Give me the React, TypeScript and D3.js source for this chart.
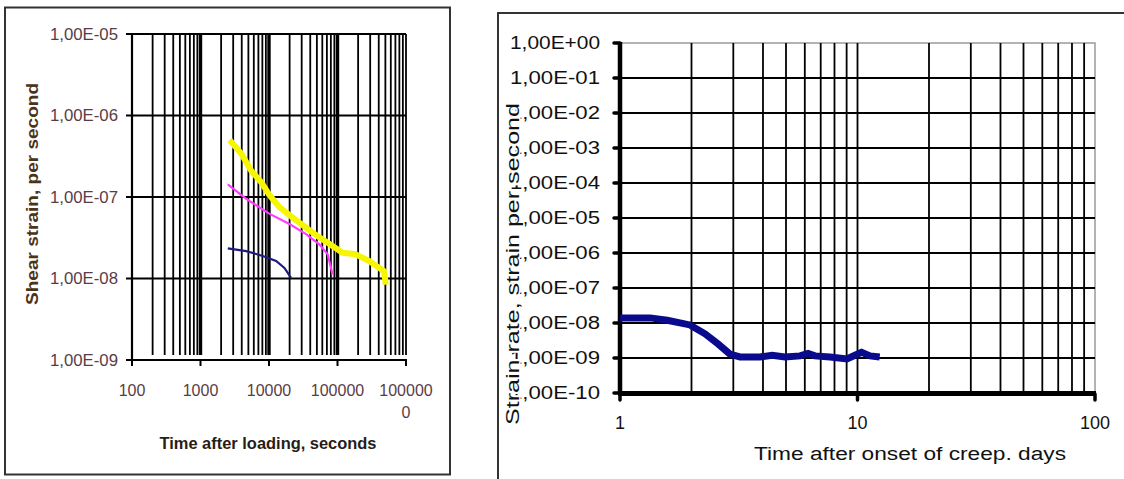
import React from "react";
import * as d3 from "d3";

// left chart: shear strain rate vs time after loading (seconds)
const yellowX = [2660, 3950, 5500, 7700, 10200, 14200, 22200, 34700, 54300, 84800, 118000, 185000, 290000, 479000, 507000];
const yellowY = [5.0e-7, 3.4e-7, 2.1e-7, 1.52e-7, 1.05e-7, 7.5e-8, 5.6e-8, 4.2e-8, 3.2e-8, 2.5e-8, 2.07e-8, 1.98e-8, 1.64e-8, 1.23e-8, 8.4e-9];
const magentaX = [2500, 4650, 10200, 19900, 34700, 54300, 71800, 84800];
const magentaY = [1.43e-7, 9.5e-8, 6.2e-8, 4.66e-8, 3.5e-8, 2.63e-8, 1.98e-8, 1.12e-8];
const navyX = [2500, 4650, 8100, 12700, 16800, 21000];
const navyY = [2.34e-8, 2.17e-8, 1.89e-8, 1.64e-8, 1.35e-8, 1.02e-8];
const leftXTicks = ["100", "1000", "10000", "100000", "1000000"];
const leftYTicks = ["1,00E-09", "1,00E-08", "1,00E-07", "1,00E-06", "1,00E-05"];

// right chart: strain rate vs time after onset of creep (days)
const creepX = [1.0, 1.34, 1.58, 1.97, 2.28, 2.59, 2.9, 3.2, 3.88, 4.37, 4.95, 5.73, 6.19, 6.62, 7.66, 9.03, 9.76, 10.4, 11.3, 12.4];
const creepY = [1.4e-8, 1.4e-8, 1.2e-8, 8.8e-9, 4.9e-9, 2.5e-9, 1.3e-9, 1.07e-9, 1.07e-9, 1.2e-9, 1.07e-9, 1.15e-9, 1.35e-9, 1.15e-9, 1.07e-9, 9.4e-10, 1.2e-9, 1.45e-9, 1.15e-9, 1.07e-9];
const rightXTicks = ["1", "10", "100"];
const rightYTicks = ["1,00E-10", "1,00E-09", "1,00E-08", "1,00E-07", "1,00E-06", "1,00E-05", "1,00E-04", "1,00E-03", "1,00E-02", "1,00E-01", "1,00E+00"];

const isDecade = (v: number) => Math.abs(Math.log10(v) - Math.round(Math.log10(v))) < 1e-9;

function LeftChart() {
  const x = d3.scaleLog().domain([100, 1e6]).range([132, 406]);
  const y = d3.scaleLog().domain([1e-9, 1e-5]).range([360, 34]);
  const line = d3.line<[number, number]>().x(d => x(d[0])).y(d => y(d[1]));
  const pts = (xs: number[], ys: number[]) => xs.map((v, i) => [v, ys[i]] as [number, number]);
  const xt = x.ticks();
  const decadesY = y.ticks().filter(isDecade);
  const decadesX = xt.filter(isDecade);
  const font = "'Liberation Sans', Arial, sans-serif";
  return (
    <g>
      <rect x={5} y={7.5} width={445} height={467} fill="#fff" stroke="#333" strokeWidth={2} />
      {xt.filter(v => v > 100).map((v, i) => (
        <line key={"vx" + i} x1={x(v)} x2={x(v)} y1={34} y2={355} stroke="#000"
          strokeWidth={isDecade(v) && v < 1e6 ? 3.4 : 1.8} />
      ))}
      {decadesY.filter(v => v > 1e-9).map((v, i) => (
        <line key={"hy" + i} x1={132} x2={406} y1={y(v)} y2={y(v)} stroke="#000" strokeWidth={2.2} />
      ))}
      <line x1={132} x2={132} y1={34} y2={360} stroke="#000" strokeWidth={2.2} />
      <line x1={132} x2={407} y1={360} y2={360} stroke="#000" strokeWidth={2.2} />
      {decadesY.map((v, i) => (
        <line key={"ty" + i} x1={126} x2={132} y1={y(v)} y2={y(v)} stroke="#000" strokeWidth={2} />
      ))}
      {decadesX.map((v, i) => (
        <line key={"tx" + i} x1={x(v)} x2={x(v)} y1={360} y2={366} stroke="#000" strokeWidth={2} />
      ))}
      <path d={line(pts(navyX, navyY)) || ""} fill="none" stroke="#1c1c80" strokeWidth={2.2} />
      <path d={line(pts(magentaX, magentaY)) || ""} fill="none" stroke="#ff3cff" strokeWidth={2.2} />
      <path d={line(pts(yellowX, yellowY)) || ""} fill="none" stroke="#f6f600" strokeWidth={6} strokeLinejoin="round" />
      {decadesY.map((v, i) => (
        <text key={"ly" + i} x={118} y={y(v)} dy="0.35em" textAnchor="end" fontFamily={font} fontSize={16}
          fill="#5a3c46" textLength={68} lengthAdjust="spacingAndGlyphs">{leftYTicks[i]}</text>
      ))}
      {decadesX.map((v, i) => (
        leftXTicks[i].length > 6 ? (
          <text key={"lx" + i} x={x(v)} y={390} textAnchor="middle" fontFamily={font} fontSize={16} fill="#5a3c46">
            <tspan x={x(v)} dy="0.35em">{leftXTicks[i].slice(0, 6)}</tspan>
            <tspan x={x(v)} dy={22}>{leftXTicks[i].slice(6)}</tspan>
          </text>
        ) : (
          <text key={"lx" + i} x={x(v)} y={390} dy="0.35em" textAnchor="middle" fontFamily={font} fontSize={16}
            fill="#5a3c46">{leftXTicks[i]}</text>
        )
      ))}
      <text x={268} y={443} dy="0.35em" textAnchor="middle" fontFamily={font} fontSize={16} fontWeight="bold"
        fill="#2a1c14" textLength={217} lengthAdjust="spacingAndGlyphs">Time after loading, seconds</text>
      <text transform="translate(32,194) rotate(-90)" dy="0.35em" textAnchor="middle" fontFamily={font} fontSize={16}
        fontWeight="bold" fill="#4a3418" textLength={222} lengthAdjust="spacingAndGlyphs">Shear strain, per second</text>
    </g>
  );
}

function RightChart() {
  const x = d3.scaleLog().domain([1, 100]).range([620, 1095]);
  const y = d3.scaleLog().domain([1e-10, 1]).range([393, 43]);
  const line = d3.line<[number, number]>().x(d => x(d[0])).y(d => y(d[1]));
  const decadesY = y.ticks().filter(isDecade);
  const xt = x.ticks();
  const decadesX = xt.filter(isDecade);
  const font = "'Liberation Sans', Arial, sans-serif";
  return (
    <g>
      <rect x={498} y={13} width={640} height={480} fill="#fff" stroke="#333" strokeWidth={2} />
      <rect x={620} y={43} width={475} height={350} fill="#fff" stroke="#9a9a9a" strokeWidth={1.5} />
      {xt.filter(v => v > 1 && v < 100).map((v, i) => (
        <line key={"vx" + i} x1={x(v)} x2={x(v)} y1={43} y2={393} stroke="#000" strokeWidth={1.8} />
      ))}
      {decadesY.filter(v => v > 1e-10 && v < 1).map((v, i) => (
        <line key={"hy" + i} x1={620} x2={1095} y1={y(v)} y2={y(v)} stroke="#000" strokeWidth={1.8} />
      ))}
      <line x1={620} x2={620} y1={42} y2={395} stroke="#000" strokeWidth={4.5} />
      <line x1={618} x2={1096} y1={393.5} y2={393.5} stroke="#000" strokeWidth={5} />
      {decadesY.map((v, i) => (
        <line key={"ty" + i} x1={614} x2={620} y1={y(v)} y2={y(v)} stroke="#000" strokeWidth={3.5} strokeLinecap="round" />
      ))}
      {decadesX.map((v, i) => (
        <line key={"tx" + i} x1={x(v)} x2={x(v)} y1={394} y2={400} stroke="#000" strokeWidth={3.5} strokeLinecap="round" />
      ))}
      <path d={line(creepX.map((v, i) => [v, creepY[i]] as [number, number])) || ""} fill="none"
        stroke="#0a0a8c" strokeWidth={7} strokeLinejoin="miter" />
      {decadesY.map((v, i) => (
        <text key={"ly" + i} x={600} y={y(v)} dy="0.36em" textAnchor="end" fontFamily={font} fontSize={18}
          fill="#111" textLength={90} lengthAdjust="spacingAndGlyphs">{rightYTicks[i]}</text>
      ))}
      {decadesX.map((v, i) => (
        <text key={"lx" + i} x={x(v)} y={423} dy="0.36em" textAnchor="middle" fontFamily={font} fontSize={18}
          fill="#111">{rightXTicks[i]}</text>
      ))}
      <text x={910} y={454} dy="0.36em" textAnchor="middle" fontFamily={font} fontSize={18} fill="#111"
        textLength={312} lengthAdjust="spacingAndGlyphs">Time after onset of creep. days</text>
      <text transform="translate(513,264) rotate(-90)" dy="0.36em" textAnchor="middle" fontFamily={font}
        fontSize={18} fill="#111" stroke="#fff" strokeWidth={3} paintOrder="stroke" textLength={322}
        lengthAdjust="spacingAndGlyphs">Strain rate, strain per second</text>
    </g>
  );
}

export default function App() {
  return (
    <svg width={1124} height={479} style={{ position: "absolute", left: 0, top: 0, background: "#fff" }}>
      <LeftChart />
      <RightChart />
    </svg>
  );
}
